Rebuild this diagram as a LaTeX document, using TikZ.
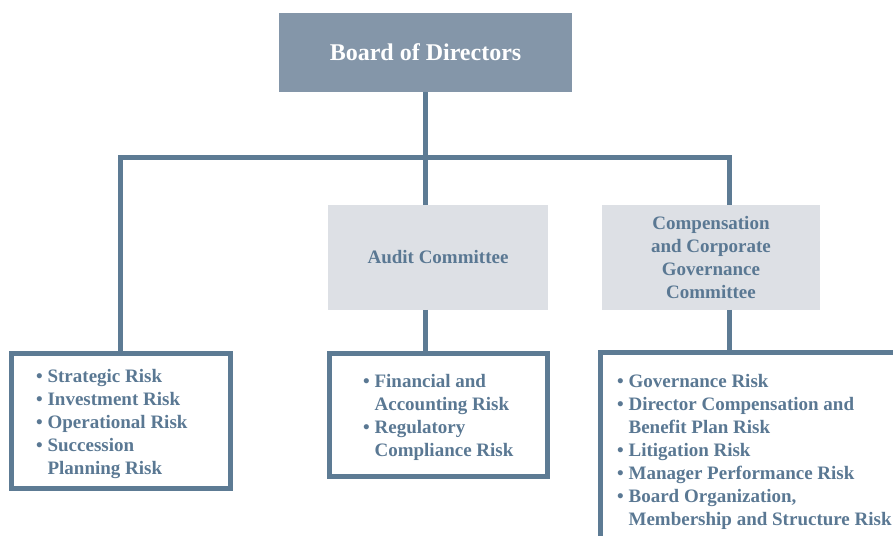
\documentclass[tikz,border=0pt]{standalone}
\usepackage{fontspec}
\setmainfont{Liberation Serif}
\usetikzlibrary{positioning}
\definecolor{lnblue}{HTML}{5D7B94}
\definecolor{bdgray}{HTML}{8496A9}
\definecolor{cmgray}{HTML}{DDE0E5}
\definecolor{txblue}{HTML}{5A7893}
\tikzstyle{bdbox} = [rectangle, fill=bdgray, text=white, font=\fontsize{24}{28}\selectfont\bfseries, minimum width=293pt, minimum height=79pt]
\tikzstyle{cmbox} = [rectangle, fill=cmgray, text=txblue, align=center, font=\fontsize{19}{23}\selectfont\bfseries, minimum height=104.5pt]
\tikzstyle{lsbox} = [rectangle, draw=lnblue, line width=5pt]
\tikzstyle{lstext} = [inner sep=0pt, align=left, text=txblue, yshift=-2.5pt, font=\fontsize{19}{23}\selectfont\bfseries]
\tikzstyle{lnk} = [draw=lnblue, line width=5pt]

\begin{document}
\begin{tikzpicture}[x=1pt, y=-1pt]
	\useasboundingbox (0,0) rectangle (893,535);
	\clip (0,0) rectangle (893,535);
	\node [bdbox] (board) at (425.5,52.5) {Board of Directors};
	\node [cmbox, minimum width=220pt] (audit) at (438,257.5) {Audit Committee};
	\node [cmbox, minimum width=218pt] (comp) at (711,257.5) {Compensation\\and Corporate\\Governance\\Committee};
	\node [lsbox, minimum width=219pt, minimum height=135pt] (strat) at (121,421) {};
	\node [lsbox, minimum width=218pt, minimum height=123pt] (audlist) at (438.5,415) {};
	\node [lsbox, minimum width=320pt, minimum height=193pt] (complist) at (760.5,449) {};
	% risk lists
	\node [lstext, right=27pt of strat.west] (stratrisk) {\textbullet\ Strategic Risk\\
		\textbullet\ Investment Risk\\
		\textbullet\ Operational Risk\\
		\textbullet\ Succession\\
		\phantom{\textbullet\ }Planning Risk};
	\node [lstext, right=36pt of audlist.west] (audrisk) {\textbullet\ Financial and\\
		\phantom{\textbullet\ }Accounting Risk\\
		\textbullet\ Regulatory\\
		\phantom{\textbullet\ }Compliance Risk};
	\node [lstext, right=19pt of complist.west] (comprisk) {\textbullet\ Governance Risk\\
		\textbullet\ Director Compensation and\\
		\phantom{\textbullet\ }Benefit Plan Risk\\
		\textbullet\ Litigation Risk\\
		\textbullet\ Manager Performance Risk\\
		\textbullet\ Board Organization,\\
		\phantom{\textbullet\ }Membership and Structure Risk};
	% connectors
	\coordinate (jl) at (120,157.5);
	\coordinate (jr) at (729,157.5);
	\draw [lnk] (jl |- strat.north) -- (jl) -- (jr) -- (jr |- comp.north);
	\draw [lnk] (board.south) -- (board.south |- audit.north);
	\draw [lnk] (board.south |- audit.south) -- (board.south |- audlist.north);
	\draw [lnk] (jr |- comp.south) -- (jr |- complist.north);
\end{tikzpicture}
\end{document}
